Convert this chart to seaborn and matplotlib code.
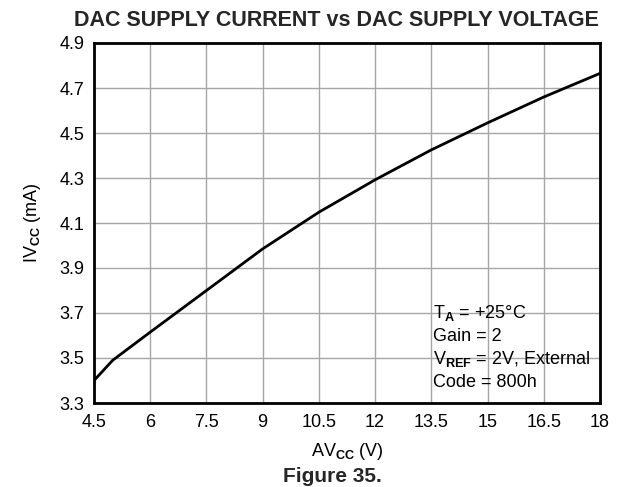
import matplotlib
matplotlib.use("Agg")
import matplotlib.pyplot as plt
import seaborn as sns
import pandas as pd

# Supply voltage (V) and measured DAC supply current (mA)
avcc = [4.5, 5.0, 6.0, 7.5, 9.0, 10.5, 12.0, 13.5, 15.0, 16.5, 18.0]
ivcc = [3.40, 3.49, 3.615, 3.80, 3.985, 4.148, 4.292, 4.425, 4.545, 4.66, 4.765]

x_ticks = [4.5, 6, 7.5, 9, 10.5, 12, 13.5, 15, 16.5, 18]
x_tick_labels = ["4.5", "6", "7.5", "9", "10.5", "12", "13.5", "15", "16.5", "18"]
y_ticks = [3.3, 3.5, 3.7, 3.9, 4.1, 4.3, 4.5, 4.7, 4.9]
y_tick_labels = ["3.3", "3.5", "3.7", "3.9", "4.1", "4.3", "4.5", "4.7", "4.9"]

conditions = [
    r"T$_\mathbf{A}$ = +25°C",
    "Gain = 2",
    r"V$_\mathbf{REF}$ = 2V, External",
    "Code = 800h",
]

sns.set_theme(style="white")
plt.rcParams["font.family"] = ["Liberation Sans", "DejaVu Sans"]
plt.rcParams["mathtext.fontset"] = "custom"
plt.rcParams["mathtext.rm"] = "Liberation Sans"
plt.rcParams["mathtext.it"] = "Liberation Sans:italic"
plt.rcParams["mathtext.bf"] = "Liberation Sans:bold"

df = pd.DataFrame({"AVCC": avcc, "IVCC": ivcc})

fig = plt.figure(figsize=(6.21, 4.87), dpi=100)
ax = fig.add_axes([94 / 621, 1 - 403 / 487, 506 / 621, 360 / 487])

sns.lineplot(data=df, x="AVCC", y="IVCC", ax=ax, color="black", linewidth=2.0)

ax.set_xlim(4.5, 18)
ax.set_ylim(3.3, 4.9)
ax.set_xticks(x_ticks)
ax.set_xticklabels(x_tick_labels)
ax.set_yticks(y_ticks)
ax.set_yticklabels(y_tick_labels)
ax.tick_params(axis="both", length=0, labelsize=13, colors="black")
ax.tick_params(axis="x", pad=8)
ax.tick_params(axis="y", pad=7)
ax.grid(True, color="#a6a6a6", linewidth=1.0)
ax.set_axisbelow(True)
for s in ax.spines.values():
    s.set_color("black")
    s.set_linewidth(2.0)

ax.set_xlabel(r"AV$_\mathbf{CC}$ (V)", fontsize=13, color="black", labelpad=7)
ax.set_ylabel(r"IV$_\mathbf{CC}$ (mA)", fontsize=13, color="black", labelpad=12)

fig.text(336 / 621, 1 - 20 / 487, "DAC SUPPLY CURRENT vs DAC SUPPLY VOLTAGE",
         ha="center", va="center", fontsize=15.5, fontweight="bold")
fig.text(332 / 621, 1 - 476 / 487, "Figure 35.", ha="center", va="center",
         fontsize=15, fontweight="bold")

for i, line in enumerate(conditions):
    ax.text(0.670, 0.25 - i * 0.064, line, transform=ax.transAxes,
            ha="left", va="center", fontsize=13, color="black")

fig.savefig("out.png", dpi=100)
